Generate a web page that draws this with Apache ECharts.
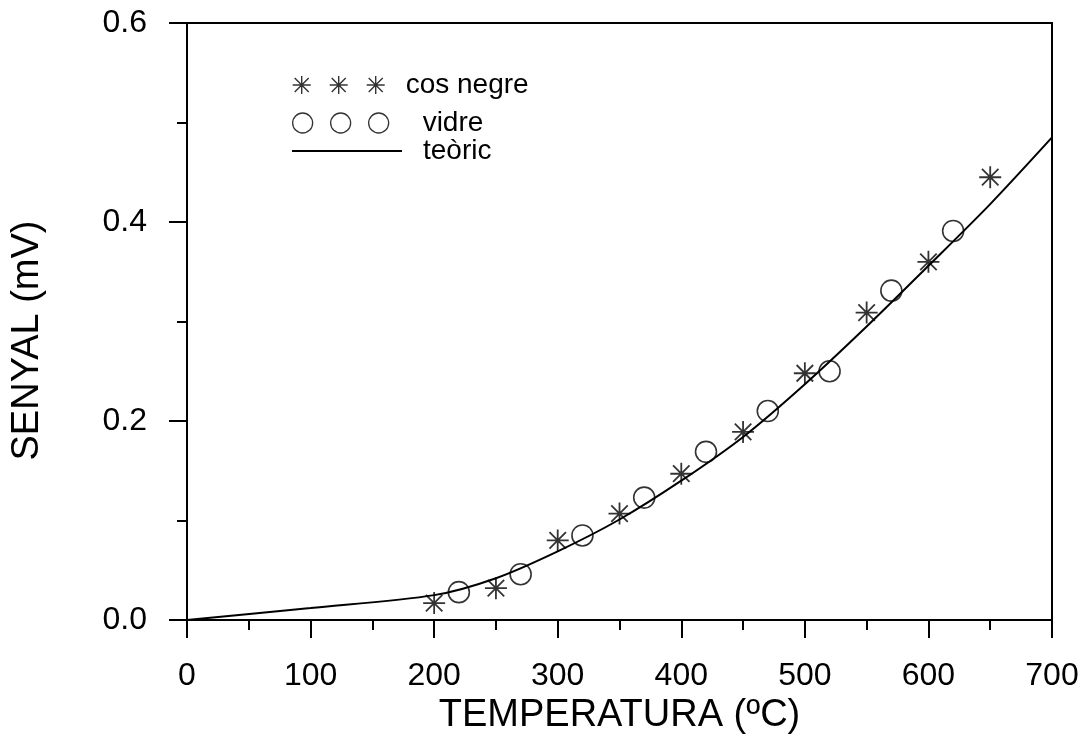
<!DOCTYPE html>
<html>
<head>
<meta charset="utf-8">
<script src="https://cdn.jsdelivr.net/npm/echarts@6/dist/echarts.min.js"></script>
<style>html,body{margin:0;padding:0;background:#fff;}#c{width:1085px;height:740px;}</style>
</head>
<body>
<div id="c"></div>
<script>
// Data
var cosNegreT = [200, 250, 300, 350, 400, 450, 500, 550, 600, 650];
var cosNegreV = [0.017, 0.032, 0.080, 0.107, 0.147, 0.189, 0.248, 0.309, 0.360, 0.445];
var vidreT = [220, 270, 320, 370, 420, 470, 520, 570, 620];
var vidreV = [0.028, 0.046, 0.085, 0.123, 0.169, 0.210, 0.250, 0.331, 0.391];
var teoricT = [0, 100, 200, 250, 300, 350, 400, 450, 500, 550, 600, 650, 700];
var teoricV = [0, 0.012, 0.025, 0.042, 0.069, 0.101, 0.140, 0.184, 0.237, 0.295, 0.356, 0.418, 0.485];
var xTicks = [0, 100, 200, 300, 400, 500, 600, 700];
var yTicks = [0.0, 0.2, 0.4, 0.6];

function pairs(xs, ys) { return xs.map(function (x, i) { return [x, ys[i]]; }); }

var FONT = '"Liberation Sans", Arial, sans-serif';
var starPath = 'path://M0,8L16,8M8,0L8,16M2,2L14,14M14,2L2,14';
function multiStar() {
  var s = '';
  for (var i = 0; i < 3; i++) {
    var o = i * 37;
    s += 'M' + o + ',9L' + (o + 18) + ',9M' + (o + 9) + ',0L' + (o + 9) + ',18M' + (o + 2) + ',2L' + (o + 16) + ',16M' + (o + 16) + ',2L' + (o + 2) + ',16';
  }
  return 'path://' + s;
}
function multiCircle() {
  var s = '';
  for (var i = 0; i < 3; i++) {
    var o = i * 38;
    s += 'M' + o + ',10A10,10 0 1 1 ' + (o + 20) + ',10A10,10 0 1 1 ' + o + ',10Z';
  }
  return 'path://' + s;
}

var chart = echarts.init(document.getElementById('c'), null, { renderer: 'canvas' });
var legendText = { color: '#000', fontSize: 28, fontFamily: FONT };
chart.setOption({
  animation: false,
  backgroundColor: '#fff',
  grid: { left: 187, right: 33, top: 23, bottom: 118, show: true, borderColor: '#000', borderWidth: 2, backgroundColor: 'transparent' },
  legend: [
    { data: ['cos negre'], left: 287, top: 66, icon: multiStar(), itemWidth: 92, itemHeight: 18,
      itemStyle: { color: 'rgba(0,0,0,0)', borderColor: '#000', borderWidth: 1.4 },
      textStyle: Object.assign({ padding: [0, 0, 0, 16] }, legendText), selectedMode: false },
    { data: ['vidre'], left: 287, top: 104, icon: multiCircle(), itemWidth: 96, itemHeight: 20,
      itemStyle: { color: 'rgba(0,0,0,0)', borderColor: '#000', borderWidth: 1.3 },
      textStyle: Object.assign({ padding: [0, 0, 0, 29] }, legendText), selectedMode: false },
    { data: ['teòric'], left: 287, top: 132, icon: 'rect', itemWidth: 110, itemHeight: 2,
      itemStyle: { color: '#000', borderWidth: 0 },
      textStyle: Object.assign({ padding: [0, 0, 0, 16] }, legendText), selectedMode: false }
  ],
  xAxis: {
    type: 'value', min: xTicks[0], max: xTicks[xTicks.length - 1], interval: 100,
    name: 'TEMPERATURA (ºC)', nameLocation: 'middle', nameGap: 77,
    nameTextStyle: { color: '#000', fontSize: 38, fontFamily: FONT },
    axisLine: { show: true, lineStyle: { color: '#000', width: 2 } },
    axisTick: { show: true, inside: false, length: 18, lineStyle: { color: '#000', width: 2 } },
    minorTick: { show: true, splitNumber: 2, length: 10, lineStyle: { color: '#000', width: 2 } },
    axisLabel: { color: '#000', fontSize: 32, fontFamily: FONT, margin: 40 },
    splitLine: { show: false }
  },
  yAxis: {
    type: 'value', min: yTicks[0], max: yTicks[yTicks.length - 1], interval: 0.2,
    name: 'SENYAL (mV)', nameLocation: 'middle', nameGap: 140,
    nameTextStyle: { color: '#000', fontSize: 38, fontFamily: FONT, padding: [0, 38, 0, 0] },
    axisLine: { show: true, lineStyle: { color: '#000', width: 2 } },
    axisTick: { show: true, inside: false, length: 18, lineStyle: { color: '#000', width: 2 } },
    minorTick: { show: true, splitNumber: 2, length: 10, lineStyle: { color: '#000', width: 2 } },
    axisLabel: { color: '#000', fontSize: 32, fontFamily: FONT, margin: 40, formatter: function (v) { return v.toFixed(1); } },
    splitLine: { show: false }
  },
  series: [
    { name: 'teòric', type: 'line', data: pairs(teoricT, teoricV), showSymbol: false, smooth: 0.3,
      lineStyle: { color: '#000', width: 2 }, itemStyle: { color: '#000' }, z: 2, silent: true },
    { name: 'cos negre', type: 'scatter', data: pairs(cosNegreT, cosNegreV), symbol: starPath, symbolSize: 22,
      itemStyle: { color: 'rgba(0,0,0,0)', borderColor: '#000', borderWidth: 1.8 }, z: 3, silent: true },
    { name: 'vidre', type: 'scatter', data: pairs(vidreT, vidreV), symbol: 'circle', symbolSize: 21,
      itemStyle: { color: 'rgba(0,0,0,0)', borderColor: '#000', borderWidth: 1.6 }, z: 3, silent: true }
  ]
});
</script>
</body>
</html>
